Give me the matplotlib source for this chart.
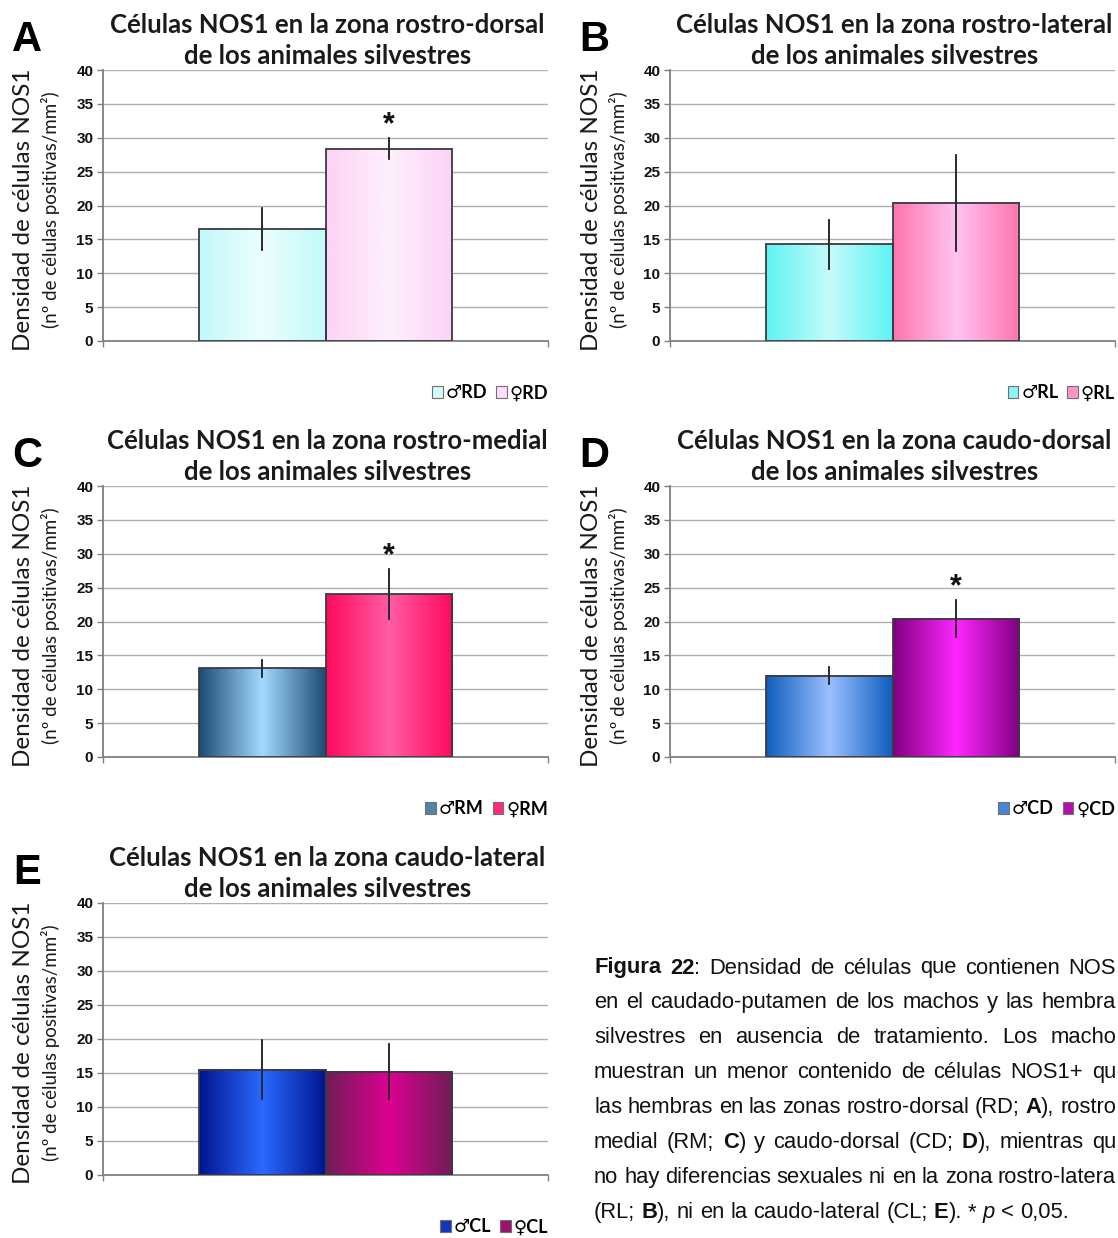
import numpy as np
import matplotlib
matplotlib.use('Agg')
import matplotlib.pyplot as plt
from matplotlib.patches import Rectangle
from matplotlib.colors import LinearSegmentedColormap
from matplotlib.font_manager import FontProperties

W, H = 1118, 1238

# ---------------- data ----------------
panel_letters = ['A', 'B', 'C', 'D', 'E']
titles = ['Células NOS1 en la zona rostro-dorsal',
          'Células NOS1 en la zona rostro-lateral',
          'Células NOS1 en la zona rostro-medial',
          'Células NOS1 en la zona caudo-dorsal',
          'Células NOS1 en la zona caudo-lateral']
subtitle = 'de los animales silvestres'
zones = ['RD', 'RL', 'RM', 'CD', 'CL']
male_means = [16.6, 14.3, 13.1, 12.0, 15.5]
male_err = [3.1, 3.6, 1.25, 1.25, 4.35]
female_means = [28.4, 20.4, 24.0, 20.4, 15.2]
female_err = [1.55, 7.1, 3.7, 2.7, 4.0]
significant = [True, False, True, True, False]
yticks = [0, 5, 10, 15, 20, 25, 30, 35, 40]
ylabel1 = 'Densidad de células NOS1'
ylabel2 = '(nº de células positivas/mm²)'

# gradient colours (edge, centre)
male_cols = [('#c2f9f9', '#ecfefe'), ('#5ef3f3', '#c6fbfb'), ('#1c4a72', '#a4daff'),
             ('#0f5dbd', '#9cc0ff'), ('#00148f', '#2a6aff')]
female_cols = [('#fdd2f6', '#fdf0fb'), ('#ff74ae', '#ffc4f2'), ('#ff0a5c', '#ff5ca6'),
               ('#800080', '#ff26ff'), ('#6e1e55', '#de0092')]

# caption as visible in the reference (right edge is cropped there)
caption_lines = [
    '**Figura 22**: Densidad de células que contienen NOS',
    'en el caudado-putamen de los machos y las hembra',
    'silvestres en ausencia de tratamiento. Los macho',
    'muestran un menor contenido de células NOS1+ qu',
    'las hembras en las zonas rostro-dorsal (RD; **A**), rostro',
    'medial (RM; **C**) y caudo-dorsal (CD; **D**), mientras qu',
    'no hay diferencias sexuales ni en la zona rostro-latera',
    '(RL; **B**), ni en la caudo-lateral (CL; **E**). * _p_ < 0,05.',
]

# ---------------- layout ----------------
axes_px = [(103, 70, 548, 341), (670, 70, 1115, 341),
           (103, 486, 548, 757), (670, 486, 1115, 757),
           (103, 903, 548, 1175)]

fig = plt.figure(figsize=(W / 100, H / 100), dpi=100)

TITLE_FONT = ['Lato', 'DejaVu Sans']
LAB_FONT = ['Lato', 'DejaVu Sans']
TICK_FONT = ['Liberation Sans', 'DejaVu Sans']

for i in range(5):
    l, t, r, b = axes_px[i]
    ax = fig.add_axes([l / W, 1 - b / H, (r - l) / W, (b - t) / H])
    bw = 0.284
    xs = [-bw / 2, bw / 2]
    bars = ax.bar(xs, [male_means[i], female_means[i]], width=bw, facecolor='none',
                  edgecolor='#3a3a44', linewidth=1.3, zorder=4)
    for bar, (ce, cc) in zip(bars, [male_cols[i], female_cols[i]]):
        x0, w, h = bar.get_x(), bar.get_width(), bar.get_height()
        cmap = LinearSegmentedColormap.from_list('g', [ce, cc, ce])
        grad = np.linspace(0, 1, 256)[None, :]
        ax.imshow(grad, cmap=cmap, extent=(x0, x0 + w, 0, h), aspect='auto',
                  zorder=3, interpolation='bilinear')
    ax.errorbar(xs, [male_means[i], female_means[i]], yerr=[male_err[i], female_err[i]],
                fmt='none', ecolor='#2a2a2a', elinewidth=1.4, capsize=1.0, capthick=1.2, zorder=5)
    if significant[i]:
        ax.text(xs[1], female_means[i] + female_err[i] - 0.3, '*', ha='center', va='bottom',
                fontsize=22, fontweight='bold', family=TICK_FONT, color='#111111')
    ax.set_xlim(-0.5, 0.5)
    ax.set_ylim(0, 40)
    ax.set_yticks(yticks)
    ax.set_yticklabels([str(v) for v in yticks], fontsize=11, fontweight='bold',
                       family=TICK_FONT, color='#111111')
    ax.set_xticks([-0.5, 0.5])
    ax.set_xticklabels(['', ''])
    ax.tick_params(axis='both', direction='out', length=4, width=1.0, color='#808080', pad=3)
    ax.grid(axis='y', color='#b0b0b0', linewidth=1.0, zorder=0)
    ax.set_axisbelow(True)
    for s in ['top', 'right']:
        ax.spines[s].set_visible(False)
    for s in ['left', 'bottom']:
        ax.spines[s].set_color('#808080')
        ax.spines[s].set_linewidth(1.3)
    ax.patch.set_alpha(0)

    cx = (l + r) / 2 + 2
    fig.text(cx / W, 1 - (t - 45) / H, titles[i], ha='center', va='center',
             fontsize=18.5, fontweight='bold', family=TITLE_FONT, color='#1a1a1a')
    fig.text(cx / W, 1 - (t - 14) / H, subtitle, ha='center', va='center',
             fontsize=18.5, fontweight='bold', family=TITLE_FONT, color='#1a1a1a')
    fig.text((l - 76) / W, 1 - (t - 30) / H, panel_letters[i], ha='center', va='center',
             fontsize=30, fontweight='bold', family=TICK_FONT, color='#000000')
    cy = (t + b) / 2 + 4
    fig.text((l - 79) / W, 1 - cy / H, ylabel1, rotation=90, ha='center', va='center',
             fontsize=17.5, family=LAB_FONT, color='#1a1a1a')
    fig.text((l - 52) / W, 1 - cy / H, ylabel2, rotation=90, ha='center', va='center',
             fontsize=13.5, family=LAB_FONT, color='#1a1a1a')

    # legend
    sq_m = LinearSegmentedColormap.from_list('m', male_cols[i])(0.4)
    sq_f = LinearSegmentedColormap.from_list('f', female_cols[i])(0.4)
    handles = [Rectangle((0, 0), 1, 1, facecolor=sq_m, edgecolor='#707070', linewidth=0.8),
               Rectangle((0, 0), 1, 1, facecolor=sq_f, edgecolor='#707070', linewidth=0.8)]
    labels = ['♂' + zones[i], '♀' + zones[i]]
    ax.legend(handles, labels, ncol=2, frameon=False, loc='center right',
              bbox_to_anchor=(1.0, -52 / (b - t)),
              prop=FontProperties(family=['Lato', 'DejaVu Sans'], weight='bold', size=13),
              handlelength=0.6, handleheight=0.6, handletextpad=0.15,
              columnspacing=0.5, borderaxespad=0, borderpad=0)

# ---------------- caption ----------------
CAP_FONT = ['Liberation Sans Narrow', 'Liberation Sans', 'DejaVu Sans']
CAP_SIZE = 15.8
renderer = fig.canvas.get_renderer()


def parse(line):
    words = []
    cur = []
    buf = ''
    bold = False
    ital = False
    i = 0

    def flush():
        nonlocal buf
        if buf:
            cur.append((buf, bold, ital))
            buf = ''
    while i < len(line):
        if line.startswith('**', i):
            flush(); bold = not bold; i += 2; continue
        if line[i] == '_':
            flush(); ital = not ital; i += 1; continue
        if line[i] == ' ':
            flush()
            if cur:
                words.append(cur)
            cur = []
            i += 1
            continue
        buf += line[i]
        i += 1
    flush()
    if cur:
        words.append(cur)
    return words


def measure(txt, bold, ital):
    tt = fig.text(0, 0, txt, fontsize=CAP_SIZE, family=CAP_FONT,
                  fontweight='bold' if bold else 'normal',
                  fontstyle='italic' if ital else 'normal')
    wdt = tt.get_window_extent(renderer).width
    tt.remove()
    return wdt


space_w = measure('x x', False, False) - measure('xx', False, False)
left_px, right_px = 594, 1116
y0, dy = 968, 34.9
for k, line in enumerate(caption_lines):
    words = parse(line)
    widths = [sum(measure(p[0], p[1], p[2]) for p in w) for w in words]
    if k < len(caption_lines) - 1:
        gap = (right_px - left_px - sum(widths)) / (len(words) - 1)
    else:
        gap = space_w
    x = left_px
    y = y0 + k * dy
    for w, wd in zip(words, widths):
        xx = x
        for txt, bo, it in w:
            fig.text(xx / W, 1 - y / H, txt, fontsize=CAP_SIZE, family=CAP_FONT,
                     fontweight='bold' if bo else 'normal',
                     fontstyle='italic' if it else 'normal',
                     ha='left', va='center', color='#111111')
            xx += measure(txt, bo, it)
        x += wd + gap

fig.savefig('out.png', dpi=100)
